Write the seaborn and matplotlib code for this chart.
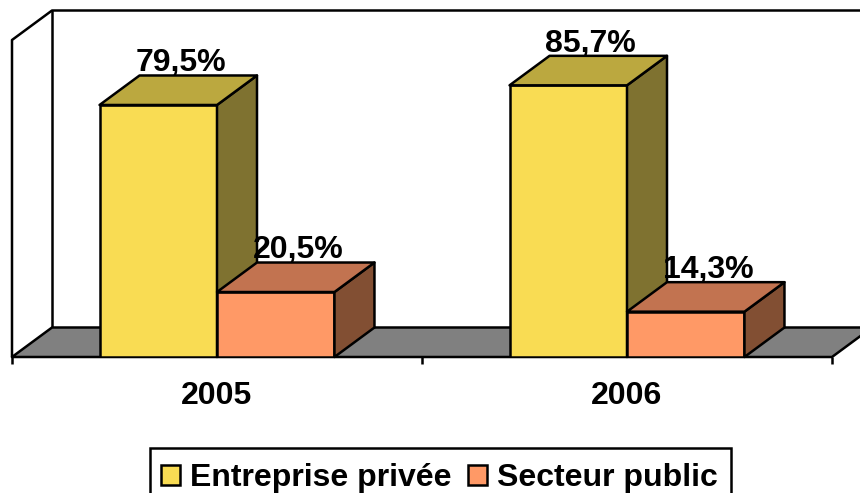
import pandas as pd
import seaborn as sns
import matplotlib.pyplot as plt
from matplotlib.patches import Polygon, Rectangle

years = ["2005", "2006"]
series_names = ["Entreprise privée", "Secteur public"]
privee = [79.5, 85.7]
public = [20.5, 14.3]

front_colors = ["#F9DC53", "#FF9966"]
top_colors = ["#BBA83F", "#C27350"]
side_colors = ["#7F7230", "#824F33"]

sns.set_theme(style="white")
plt.rcParams["font.family"] = ["Liberation Sans", "DejaVu Sans"]
plt.rcParams["font.weight"] = "bold"

W, H = 860, 493
LW = 1.8

df = pd.DataFrame({
    "year": years * 2,
    "share": privee + public,
    "kind": [series_names[0]] * 2 + [series_names[1]] * 2,
})

fig = plt.figure(figsize=(W / 100, H / 100), dpi=100)
# axes box in pixels: x 12-832, floor at y=357, 100% at y=40
ax = fig.add_axes([12 / W, 1 - 357 / H, 820 / W, 317 / H])

sns.barplot(data=df, x="year", y="share", hue="kind", order=years,
            hue_order=series_names, palette=front_colors, width=0.573,
            gap=0, saturation=1, edgecolor="black", linewidth=LW, ax=ax)

ax.set_xlim(-0.5, 1.5)
ax.set_ylim(0, 100)
ax.set_xlabel("")
ax.set_ylabel("")
ax.set_yticks([])
for s in ax.spines.values():
    s.set_visible(False)

# depth of the fake 3d, in data units
dx = 40 / 410
dy = 29.5 / 3.17


def poly(pts, color, z):
    ax.add_patch(Polygon(pts, closed=True, facecolor=color, edgecolor="black",
                         linewidth=LW, clip_on=False, zorder=z, joinstyle="round"))


# walls and floor
x0, x1 = -0.5, 1.5
ax.plot([x0, x0, x0 + dx, x1 + dx], [0, 100, 100 + dy, 100 + dy], color="black",
        lw=LW, clip_on=False, zorder=0.5)
ax.plot([x0 + dx, x0 + dx], [100 + dy, dy], color="black", lw=LW, clip_on=False, zorder=0.5)
poly([(x0, 0), (x1, 0), (x1 + dx, dy), (x0 + dx, dy)], "#808080", 0.6)

# side + top of each bar, taken from the bars seaborn placed
for i, cont in enumerate(ax.containers):
    for bar, val in zip(cont, df[df.kind == series_names[i]].share):
        l, r, h = bar.get_x(), bar.get_x() + bar.get_width(), bar.get_height()
        bar.set_zorder(2 + i)
        poly([(r, 0), (r + dx, dy), (r + dx, h + dy), (r, h)], side_colors[i], 2 + i)
        poly([(l, h), (r, h), (r + dx, h + dy), (l + dx, h + dy)], top_colors[i], 2 + i)
        ax.annotate(f"{val:.1f}%".replace(".", ","), xy=(l + (r - l) / 2, h + dy),
                    xytext=(16, 3), textcoords="offset points", ha="center",
                    va="baseline", fontsize=23, fontweight="bold", color="black",
                    zorder=6, annotation_clip=False)

# ticks between the groups, labels under the groups
ax.set_xticks([0, 1])
ax.set_xticklabels(years, fontsize=23, fontweight="bold", color="black")
ax.set_xticks([-0.5, 0.5, 1.5], minor=True)
ax.tick_params(axis="x", which="major", length=0, pad=17)
ax.tick_params(axis="x", which="minor", length=5, width=LW, color="black", bottom=True)

# frame is drawn apart because its top sits closer to the text than the sides allow
sns.move_legend(ax, "upper left", bbox_to_anchor=(161 / W, 1 - 463 / H),
                bbox_transform=fig.transFigure, ncol=2, title=None, frameon=False,
                fontsize=23, handlelength=0.6, handleheight=0.6, handletextpad=0.32,
                columnspacing=0.5, borderpad=0, borderaxespad=0,
                labelcolor="black")
for t in ax.get_legend().get_texts():
    t.set_fontweight("bold")
fig.add_artist(Rectangle((149.5 / W, -0.02), (731 - 149.5) / W, 1 - 447.5 / H + 0.02,
                         transform=fig.transFigure, fill=False, edgecolor="black",
                         linewidth=LW))

fig.savefig("out.png", dpi=100)
